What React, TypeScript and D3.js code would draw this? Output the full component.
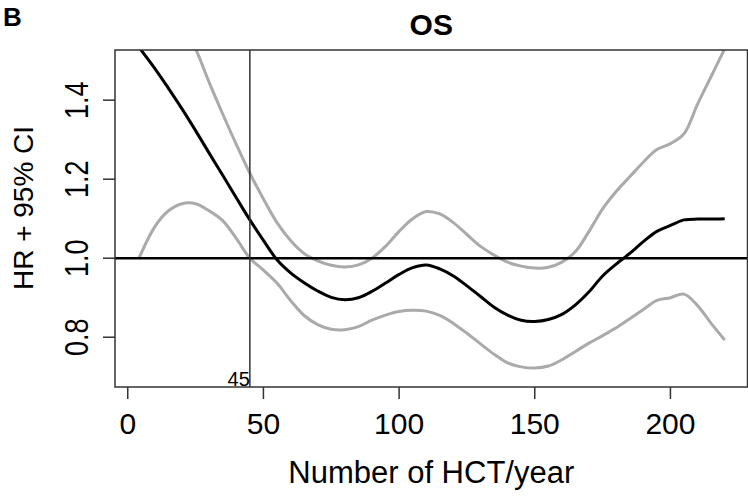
import React from 'react';
import * as d3 from 'd3';

// number of HCT per year (x grid the curves were read on)
const hctPerYear = [4, 10, 15, 20, 25, 30, 35, 40, 45, 50, 55, 60, 65, 70, 75, 80, 85, 90, 95, 100, 105, 110,
    115, 120, 125, 130, 135, 140, 145, 150, 155, 160, 165, 170, 175, 180, 185, 190, 195, 200, 205, 210, 215, 220];

// hazard ratio
const hr = [1.535, 1.48, 1.43, 1.378, 1.323, 1.266, 1.21, 1.153, 1.097, 1.045, 0.996, 0.963, 0.938, 0.917,
    0.901, 0.895, 0.9, 0.916, 0.937, 0.959, 0.976, 0.983, 0.973, 0.955, 0.93, 0.903, 0.876, 0.856, 0.843,
    0.84, 0.845, 0.858, 0.882, 0.915, 0.955, 0.985, 1.012, 1.042, 1.068, 1.083, 1.097, 1.099, 1.099, 1.1];

// 95% CI upper bound
const ciUpper = [1.87, 1.76, 1.67, 1.595, 1.53, 1.445, 1.365, 1.288, 1.215, 1.15, 1.09, 1.045, 1.012, 0.993,
    0.982, 0.978, 0.983, 1.0, 1.03, 1.068, 1.1, 1.118, 1.112, 1.09, 1.06, 1.03, 1.008, 0.99, 0.98, 0.975,
    0.977, 0.99, 1.017, 1.068, 1.125, 1.169, 1.206, 1.243, 1.275, 1.29, 1.315, 1.39, 1.46, 1.53];

// 95% CI lower bound
const ciLower = [0.998, 1.08, 1.12, 1.138, 1.138, 1.12, 1.095, 1.05, 1.0, 0.97, 0.937, 0.893, 0.855, 0.832,
    0.82, 0.819, 0.827, 0.843, 0.856, 0.865, 0.868, 0.866, 0.855, 0.835, 0.81, 0.783, 0.757, 0.735, 0.725,
    0.722, 0.727, 0.743, 0.764, 0.785, 0.804, 0.824, 0.847, 0.87, 0.893, 0.9, 0.909, 0.88, 0.835, 0.793];

const xTicks = [0, 50, 100, 150, 200];
const yTicks = [0.8, 1.0, 1.2, 1.4];
const cutoff = 45;

const W = 748;
const H = 501;
const margin = { left: 115, right: 0.5, top: 50, bottom: 114 };
const font = 'Liberation Sans, Arial, sans-serif';

const App: React.FC = () => {
    const x = d3.scaleLinear().domain([-4.7, 228.4]).range([margin.left, W - margin.right]);
    const y = d3.scaleLinear().domain([0.674, 1.527]).range([H - margin.bottom, margin.top]);

    const line = (vals: number[]) =>
        d3.line<number>()
            .x((_, i) => x(hctPerYear[i]))
            .y((d) => y(d))
            .curve(d3.curveCatmullRom.alpha(0.5))(vals) || '';

    const x0 = margin.left;
    const x1 = W - margin.right;
    const y0 = margin.top;
    const y1 = H - margin.bottom;

    return (
        <svg width={W} height={H} style={{ position: 'absolute', left: 0, top: 0, background: '#fff' }}
            fontFamily={font}>
            <defs>
                <clipPath id="plot">
                    <rect x={x0} y={y0} width={x1 - x0} height={y1 - y0} />
                </clipPath>
            </defs>
            <text x={3} y={26} fontSize={26} fontWeight="bold">B</text>
            <text x={(x0 + x1) / 2} y={35} fontSize={30} fontWeight="bold" textAnchor="middle">OS</text>

            <g clipPath="url(#plot)" fill="none">
                <path d={line(ciUpper)} stroke="#aaa" strokeWidth={3} />
                <path d={line(ciLower)} stroke="#aaa" strokeWidth={3} />
                <path d={line(hr)} stroke="#000" strokeWidth={3} />
                <line x1={x0} x2={x1} y1={y(1)} y2={y(1)} stroke="#000" strokeWidth={2.5} />
                <line x1={x(cutoff)} x2={x(cutoff)} y1={y0} y2={y1} stroke="#333" strokeWidth={1.5} />
            </g>
            <text x={x(cutoff)} y={y1 - 1} fontSize={20} textAnchor="end">{cutoff}</text>

            <rect x={x0} y={y0} width={x1 - x0} height={y1 - y0} fill="none" stroke="#333" strokeWidth={1.5} />

            {xTicks.map((t) => (
                <g key={t}>
                    <line x1={x(t)} x2={x(t)} y1={y1} y2={y1 + 12} stroke="#333" strokeWidth={1.5} />
                    <text x={x(t)} y={434} fontSize={30} textAnchor="middle">{t}</text>
                </g>
            ))}
            {yTicks.map((t) => (
                <g key={t}>
                    <line x1={x0 - 12} x2={x0} y1={y(t)} y2={y(t)} stroke="#333" strokeWidth={1.5} />
                    <text transform={`translate(88,${y(t)}) rotate(-90) scale(1,1.25)`} fontSize={27}
                        textAnchor="middle">
                        {t.toFixed(1)}
                    </text>
                </g>
            ))}
            <text x={(x0 + x1) / 2} y={483} fontSize={31} textAnchor="middle">Number of HCT/year</text>
            <text transform={`translate(33,208) rotate(-90)`} fontSize={28} textAnchor="middle">
                HR + 95% CI
            </text>
        </svg>
    );
};

export default App;
